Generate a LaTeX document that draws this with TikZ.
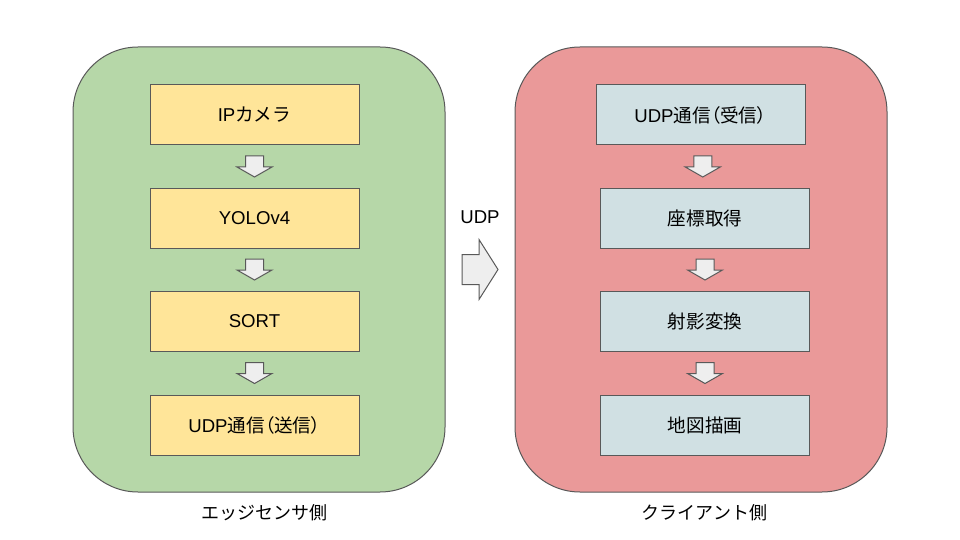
\documentclass[tikz,border=0pt]{standalone}
\usepackage{fontspec}
\setmainfont{Liberation Sans}
\newfontfamily\cjk{Noto Sans CJK JP}
\newfontfamily\cjkp[RawFeature=+palt]{Noto Sans CJK JP}
\usetikzlibrary{positioning,calc}

\definecolor{edgegreen}{HTML}{B6D7A8}
\definecolor{clientred}{HTML}{EA9999}
\definecolor{stepyellow}{HTML}{FFE599}
\definecolor{stepblue}{HTML}{D0E0E3}
\definecolor{arrowgray}{HTML}{EEEEEE}
\definecolor{linegray}{HTML}{595959}

\tikzset{
 panel/.style={draw=linegray, line width=1pt, rounded corners=65pt,
   minimum width=372pt, minimum height=445pt},
 stepbox/.style={draw=linegray, line width=1pt, outer sep=0pt, minimum width=209pt,
   minimum height=60pt, font=\fontsize{18.6}{22}\selectfont},
 sidelabel/.style={font=\fontsize{18}{22}\selectfont},
 downarrow/.pic={
   \draw[fill=arrowgray, draw=linegray, line width=1pt]
     (-9,-10.5) -- (9,-10.5) -- (9,0.5) -- (17.5,0.5) -- (0,10.5)
     -- (-17.5,0.5) -- (-9,0.5) -- cycle;
 },
 rightarrow/.pic={
   \draw[fill=arrowgray, draw=linegray, line width=1pt]
     (-18,-15) -- (-1,-15) -- (-1,-30) -- (18,0) -- (-1,30)
     -- (-1,15) -- (-18,15) -- cycle;
 },
}

\begin{document}
\begin{tikzpicture}[x=1pt,y=-1pt]
 \useasboundingbox (0,0) rectangle (960,540);

 % the two sides
 \node[panel, fill=edgegreen] (edge) at (259,269.5) {};
 \node[panel, fill=clientred] (client) at (701,269.5) {};
 \node[sidelabel] (edgelabel) at (264,513) {\cjk エッジセンサ側};
 \node[sidelabel] (clientlabel) at (704.5,513) {\cjk クライアント側};

 % edge sensor steps
 \node[stepbox, fill=stepyellow] (camera) at (254.5,115) {IP{\cjk カメラ}};
 \node[stepbox, fill=stepyellow, below=43pt of camera] (yolo) {YOLOv4};
 \node[stepbox, fill=stepyellow, below=43pt of yolo] (sort) {SORT};
 \node[stepbox, fill=stepyellow, below=44pt of sort] (send)
   {UDP{\cjk 通信}{\cjkp （}{\cjk 送信}{\cjkp ）}};

 % client steps
 \node[stepbox, fill=stepblue] (recv) at (700.5,115)
   {UDP{\cjk 通信}{\cjkp （}{\cjk 受信}{\cjkp ）}};
 \node[stepbox, fill=stepblue, below=43pt of recv, xshift=4.5pt] (coord) {\cjk 座標取得};
 \node[stepbox, fill=stepblue, below=43pt of coord] (proj) {\cjk 射影変換};
 \node[stepbox, fill=stepblue, below=44pt of proj] (map) {\cjk 地図描画};

 % flow arrows
 \pic at ($(camera.south)!0.5!(yolo.north)$) {downarrow};
 \pic at ($(yolo.south)!0.5!(sort.north)$) {downarrow};
 \pic at ($(sort.south)!0.5!(send.north)$) {downarrow};
 \pic at ($(recv.south)!0.5!(coord.north)$) {downarrow};
 \pic at ($(coord.south)!0.5!(proj.north)$) {downarrow};
 \pic at ($(proj.south)!0.5!(map.north)$) {downarrow};

 % UDP link
 \coordinate (link) at ($(edge.east)!0.5!(client.west)$);
 \pic at (link) {rightarrow};
 \node[sidelabel, font=\fontsize{18.6}{22}\selectfont] (udp) at ($(link)+(0,-52)$) {UDP};
\end{tikzpicture}
\end{document}
